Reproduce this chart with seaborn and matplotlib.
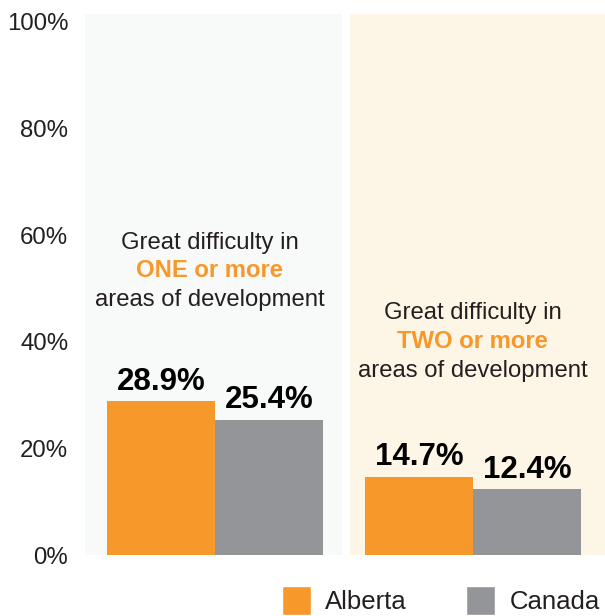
import numpy as np
import pandas as pd
import matplotlib
matplotlib.use("Agg")
import matplotlib.pyplot as plt
import seaborn as sns
from matplotlib.patches import Patch

# data
groups = ["ONE or more", "TWO or more"]
regions = ["Alberta", "Canada"]
alberta = [28.9, 14.7]
canada = [25.4, 12.4]
yticks = [0, 20, 40, 60, 80, 100]
panel_top = ["Great difficulty in", "Great difficulty in"]
panel_mid = ["ONE or more", "TWO or more"]
panel_bot = ["areas of development", "areas of development"]

orange = "#f7982a"
grey = "#939598"
txt = "#231f20"

df = pd.DataFrame({
    "group": groups * 2,
    "region": ["Alberta"] * 2 + ["Canada"] * 2,
    "value": alberta + canada,
})

sns.set_style("white")
plt.rcParams["font.family"] = ["Liberation Sans", "DejaVu Sans"]

fig = plt.figure(figsize=(6.05, 6.16), dpi=100)
W, H = 605, 616
ax = fig.add_axes([85 / W, (H - 555) / H, (605 - 85) / W, (555 - 14) / H])

# background panels
ax.axvspan(-0.504, 0.492, color="#f8f9f9", zorder=0, lw=0)
ax.axvspan(0.523, 1.52, color="#fdf5e5", zorder=0, lw=0)

sns.barplot(data=df, x="group", y="value", hue="region", order=groups,
            hue_order=regions, palette=[orange, grey], width=0.836,
            gap=0, linewidth=0, saturation=1, ax=ax, legend=False, zorder=2)

for c in ax.containers:
    ax.bar_label(c, labels=[f"{v:.1f}%" for v in c.datavalues], padding=3,
                 fontsize=22.5, fontweight="bold", color="black")

# panel captions
cx = [-0.02, 1.0]
ys = [[58.5, 53.3, 47.9], [45.4, 40.0, 34.5]]
for i in range(2):
    ax.text(cx[i], ys[i][0], panel_top[i], ha="center", va="center", fontsize=17.2, color=txt)
    ax.text(cx[i], ys[i][1], panel_mid[i], ha="center", va="center", fontsize=17.2,
            color=orange, fontweight="bold")
    ax.text(cx[i], ys[i][2], panel_bot[i], ha="center", va="center", fontsize=17.2, color=txt)

ax.set_xlim(-0.504, 1.512)
ax.set_ylim(0, 101.5)
ax.set_yticks(yticks)
ax.set_yticklabels([f"{t}%" for t in yticks], fontsize=17.3, color=txt)
ax.tick_params(axis="y", length=0, pad=12)
ax.set_xticks([])
ax.set_xlabel("")
ax.set_ylabel("")
sns.despine(ax=ax, left=True, bottom=True)

handles = [Patch(facecolor=orange, label="Alberta"), Patch(facecolor=grey, label="Canada")]
fig.legend(handles=handles, loc="upper left", bbox_to_anchor=(282 / W, (H - 586) / H),
           ncol=2, frameon=False, fontsize=18.5, handlelength=1.13, handleheight=1.36,
           handletextpad=0.54, columnspacing=2.33, borderpad=0, borderaxespad=0,
           labelcolor=txt)

fig.savefig("out.png", dpi=100)
